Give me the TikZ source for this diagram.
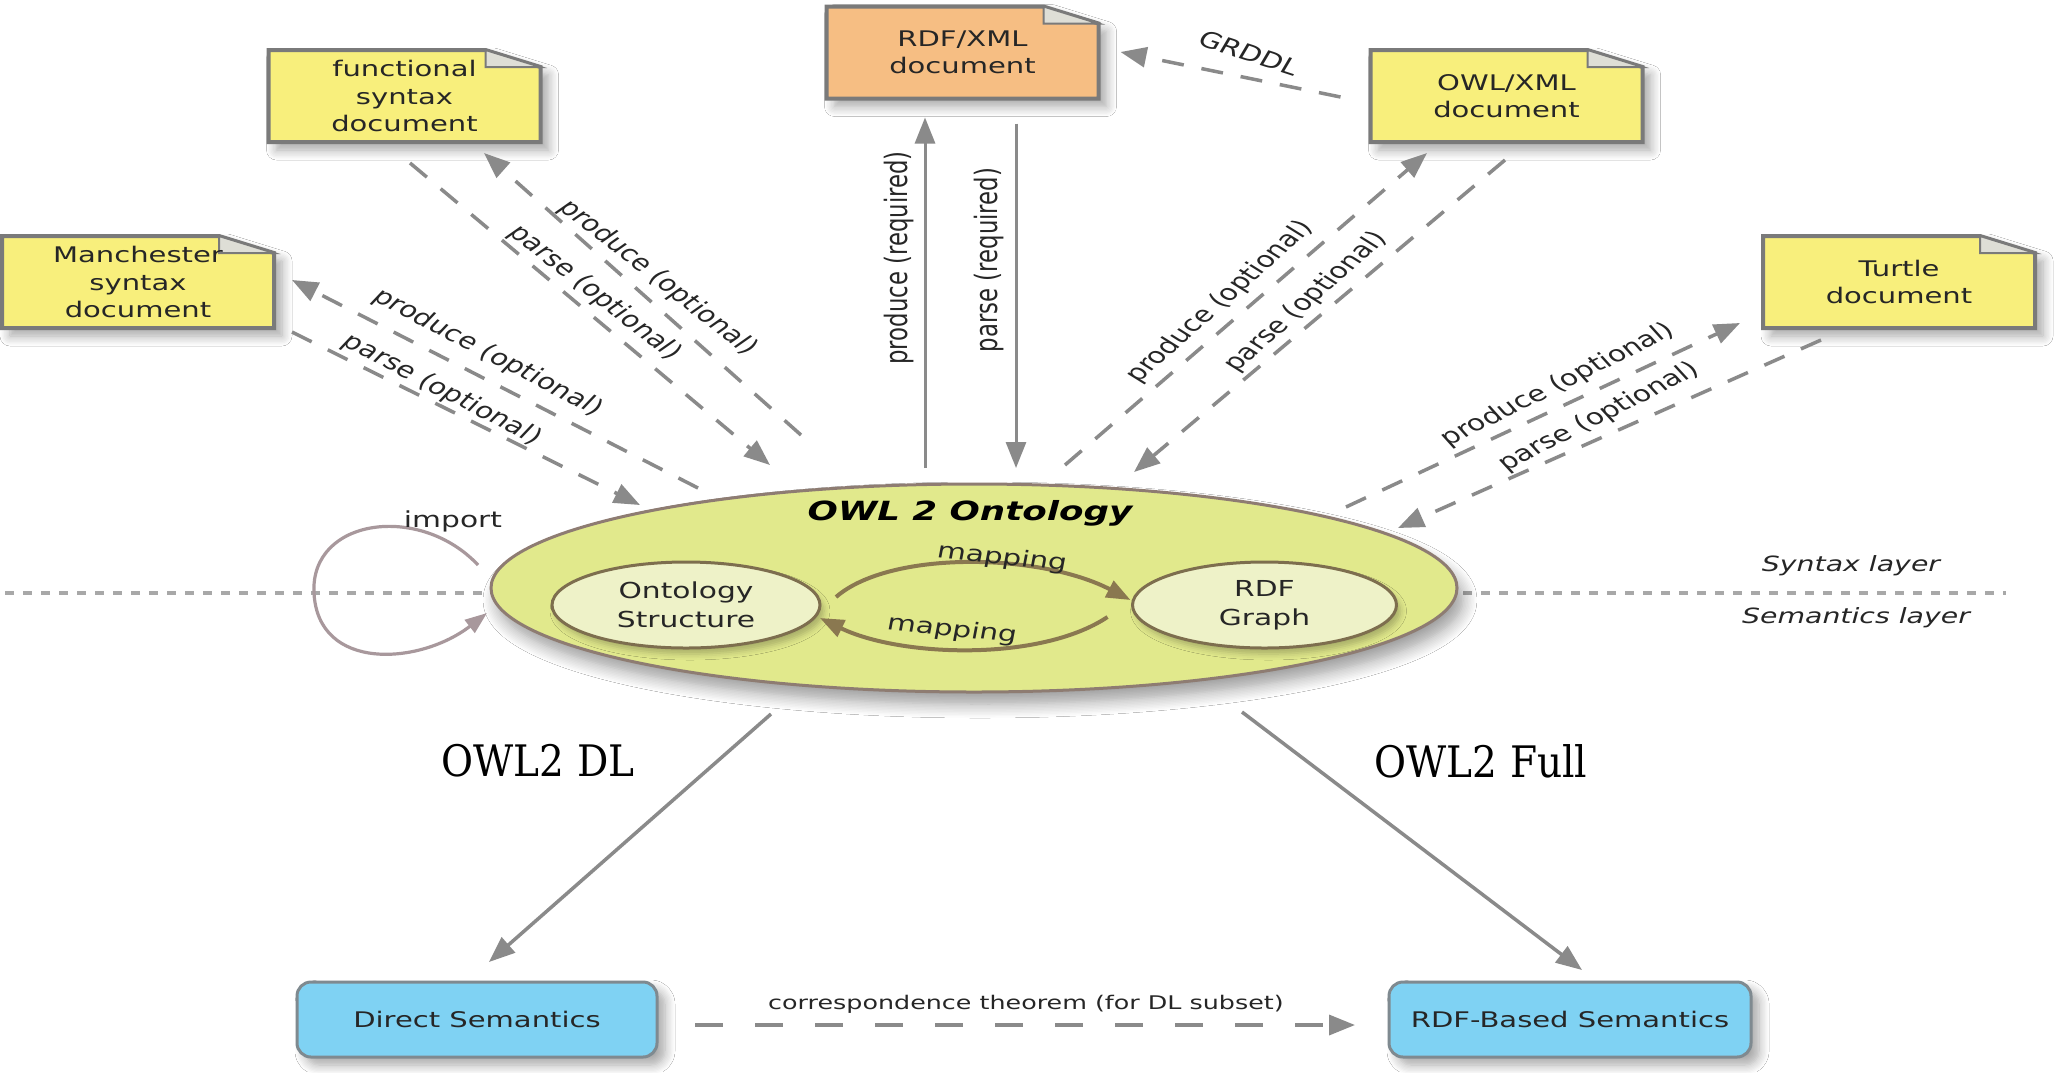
\documentclass[tikz,border=0pt]{standalone}
\usepackage{fontspec}
\setmainfont{DejaVu Sans}[FakeStretch=1.35]
\newfontfamily\plainsans{DejaVu Sans}
\newfontfamily\serifnote{DejaVu Serif}[FakeStretch=0.9]
\usetikzlibrary{arrows.meta,shapes.geometric,calc,shadows.blur}

\definecolor{docyellow}{HTML}{F8EF7C}
\definecolor{docorange}{HTML}{F6BE83}
\definecolor{edgegray}{HTML}{7A7A7A}
\definecolor{foldgray}{HTML}{DEDED6}
\definecolor{arrowgray}{HTML}{8A8A8A}
\definecolor{layergray}{HTML}{A8A8A8}
\definecolor{ontofill}{HTML}{E1E98C}
\definecolor{ontoedge}{HTML}{8E7C72}
\definecolor{innerfill}{HTML}{EEF2C8}
\definecolor{inneredge}{HTML}{7D6E4E}
\definecolor{mapbrown}{HTML}{8A7850}
\definecolor{importmauve}{HTML}{A8989C}
\definecolor{semblue}{HTML}{7FD2F3}
\definecolor{semedge}{HTML}{7F8A90}
\definecolor{inktext}{HTML}{262626}

\tikzset{
  every node/.style={inner sep=0pt, outer sep=0pt, text=inktext},
  softshadow/.style={blur shadow={shadow xshift=4pt, shadow yshift=-4pt,
      shadow blur radius=5pt, shadow blur steps=8, shadow opacity=35}},
  doctext/.style={minimum width=136pt, minimum height=46pt, align=center,
      font=\fontsize{10.75}{13.75}\selectfont},
  docshape/.style={draw=edgegray, line width=2pt, softshadow},
  foldshape/.style={fill=foldgray, draw=edgegray, line width=1pt},
  tip/.style={-{Triangle[length=13pt,width=10pt]}},
  flow/.style={draw=arrowgray, line width=1.75pt, dash pattern=on 11pt off 9pt, tip},
  required/.style={draw=arrowgray, line width=1.5pt, tip},
  semflow/.style={draw=arrowgray, line width=1.75pt, tip},
  corrflow/.style={draw=arrowgray, line width=1.75pt, dash pattern=on 14pt off 16pt, tip},
  layerline/.style={draw=layergray, line width=2pt, dash pattern=on 4.5pt off 4.5pt},
  % labels are turned first and then widened, like the rest of the drawing
  edgelabel/.style={font=\plainsans\fontsize{11}{12}\selectfont, xscale=1.35},
  reqlabel/.style={font=\plainsans\fontsize{11.4}{13}\selectfont, xscale=1.35, rotate=90},
  innerell/.style={ellipse, fill=innerfill, draw=inneredge, line width=1.5pt,
      minimum height=43pt, align=center, font=\fontsize{11}{14.5}\selectfont,
      blur shadow={shadow xshift=2pt, shadow yshift=-3pt, shadow blur radius=3pt, shadow opacity=25}},
  mapflow/.style={draw=mapbrown, line width=2pt, -{Triangle[length=12pt,width=9pt]}},
  mapfont/.style={font=\plainsans\fontsize{11}{12}\selectfont, xscale=1.35},
  sembox/.style={rounded corners=7pt, fill=semblue, draw=semedge, line width=1.5pt,
      minimum height=37.5pt, font=\fontsize{10.75}{12}\selectfont, softshadow},
  layertext/.style={font=\itshape\fontsize{10.5}{12}\selectfont},
  dialect/.style={font=\serifnote\fontsize{21.7}{24}\selectfont, text=black},
}

% a document icon with a folded top-right corner: name, centre x, centre y, fill, text
\newcommand\docnote[5]{%
  \begin{scope}[shift={(#2,#3)}]
    \filldraw[docshape, fill=#4] (-136,-46) -- (81,-46) -- (136,-29) -- (136,46) -- (-136,46) -- cycle;
    \filldraw[foldshape] (81,-46) -- (81,-29) -- (136,-29) -- cycle;
  \end{scope}
  \node[doctext] (#1) at (#2,#3) {#5};
}

\begin{document}
\begin{tikzpicture}[x=0.5pt, y=-0.5pt]
\useasboundingbox (0,0) rectangle (2055,1072);
\fill[white] (0,0) rectangle (2055,1072);

% syntax / semantics divider
\draw[layerline] (5,593) -- (2006,593);
\node[layertext] (syntaxlayer) at (1851,566) {Syntax layer};
\node[layertext] (semlayer) at (1856,618) {Semantics layer};

% serialisation documents
\docnote{man}{138}{282}{docyellow}{Manchester\\syntax\\document}
\docnote{fun}{404.5}{96}{docyellow}{functional\\syntax\\document}
\docnote{rdfx}{962.5}{52.5}{docorange}{RDF/XML\\document}
\docnote{owlx}{1506.5}{96}{docyellow}{OWL/XML\\document}
\docnote{ttl}{1899}{282}{docyellow}{Turtle\\document}

% the ontology
\node[ellipse, minimum width=483pt, minimum height=104pt, fill=ontofill, draw=ontoedge,
      line width=1.5pt, blur shadow={shadow xshift=3pt, shadow yshift=-6pt,
      shadow blur radius=7pt, shadow blur steps=10, shadow opacity=40}] (onto) at (974,588) {};
\node[font=\bfseries\itshape\fontsize{13.2}{15}\selectfont, text=black] (ontotitle) at (970,513) {OWL 2 Ontology};
\node[innerell, minimum width=134pt] (ostruct) at (686,605) {Ontology\\Structure};
\node[innerell, minimum width=132pt] (rdfg) at (1264.5,605) {RDF\\Graph};

% mappings between structure and graph
\draw[mapflow] ($(ostruct.east)+(16,-8)$) .. controls (890,550) and (1040,553) .. ($(rdfg.west)+(-2,-5)$);
\draw[mapflow] ($(rdfg.west)+(-25,12)$) .. controls (1040,662) and (900,657) .. ($(ostruct.east)+(0,13)$);
\node[mapfont, rotate=-8] (maptop) at (1002,558) {mapping};
\node[mapfont, rotate=-8] (mapbot) at (952,630) {mapping};

% imports
\draw[draw=importmauve, line width=1.6pt, -{Triangle[length=11pt,width=8pt]}]
  ($(onto.west)+(-13,-23)$) .. controls (420,503) and (310,518) .. (314,593)
  .. controls (318,672) and (420,665) .. ($(onto.west)+(-4,25)$);
\node[font=\fontsize{11}{12}\selectfont] (importlbl) at (453,521) {import};

% Manchester syntax
\draw[flow] ($(onto.center)+(-276,-100)$) -- ($(man.east)+(18,-2)$);
\draw[flow] ($(man.south east)+(18,4)$) -- ($(onto.center)+(-334,-83)$);
\node[edgelabel, rotate=-35] (manprod) at (488,353) {produce (optional)};
\node[edgelabel, rotate=-35] (manparse) at (442,390) {parse (optional)};

% functional syntax
\draw[flow] ($(fun.south)+(5.5,21)$) -- ($(onto.center)+(-204,-123)$);
\draw[flow] ($(onto.center)+(-173,-153)$) -- ($(fun.south)+(79.5,11)$);
\node[edgelabel, rotate=-46.5] (funprod) at (658,278) {produce (optional)};
\node[edgelabel, rotate=-46.5] (funparse) at (595,293) {parse (optional)};

% RDF/XML
\draw[required] ($(onto.center)+(-49,-120)$) -- ($(rdfx.south)+(-37.5,19)$);
\draw[required] ($(rdfx.south)+(53.5,25)$) -- ($(onto.center)+(42,-120)$);
\node[reqlabel] (rdfprod) at (899,258) {produce (required)};
\node[reqlabel] (rdfparse) at (989,260) {parse (required)};

% OWL/XML
\draw[flow] ($(onto.center)+(91,-123)$) -- ($(owlx.south)+(-79.5,11)$);
\draw[flow] ($(owlx.south)+(-1.5,18)$) -- ($(onto.center)+(160,-116)$);
\node[edgelabel, rotate=50] (owlprod) at (1220,302) {produce (optional)};
\node[edgelabel, rotate=50] (owlparse) at (1306,302) {parse (optional)};

% GRDDL
\draw[flow] ($(owlx.west)+(-30,1)$) -- ($(rdfx.east)+(22,-0.5)$);
\node[edgelabel, rotate=-23.7] (grddl) at (1249,53) {GRDDL};

% Turtle
\draw[flow] ($(onto.center)+(372,-81)$) -- ($(ttl.west)+(-23,41)$);
\draw[flow] ($(ttl.south)+(-78,12)$) -- ($(onto.center)+(424,-60)$);
\node[edgelabel, rotate=33.7] (ttlprod) at (1558,385) {produce (optional)};
\node[edgelabel, rotate=34.3] (ttlparse) at (1599,417) {parse (optional)};

% semantics
\node[sembox, minimum width=180pt] (direct) at (477,1019.5) {Direct Semantics};
\node[sembox, minimum width=181pt] (rdfsem) at (1570,1019.5) {RDF-Based Semantics};
\draw[semflow] ($(onto.center)+(-203,126)$) -- ($(direct.north)+(12,-20)$);
\draw[semflow] ($(onto.center)+(268,124)$) -- ($(rdfsem.north)+(12,-12)$);
\node[dialect] (dl) at (538,761) {OWL2 DL};
\node[dialect] (full) at (1481,761) {OWL2 Full};
\draw[corrflow] ($(direct.east)+(38,5.5)$) -- ($(rdfsem.west)+(-34,5.5)$);
\node[font=\fontsize{9.4}{11}\selectfont] (corr) at (1026,1004) {correspondence theorem (for DL subset)};
\end{tikzpicture}
\end{document}
